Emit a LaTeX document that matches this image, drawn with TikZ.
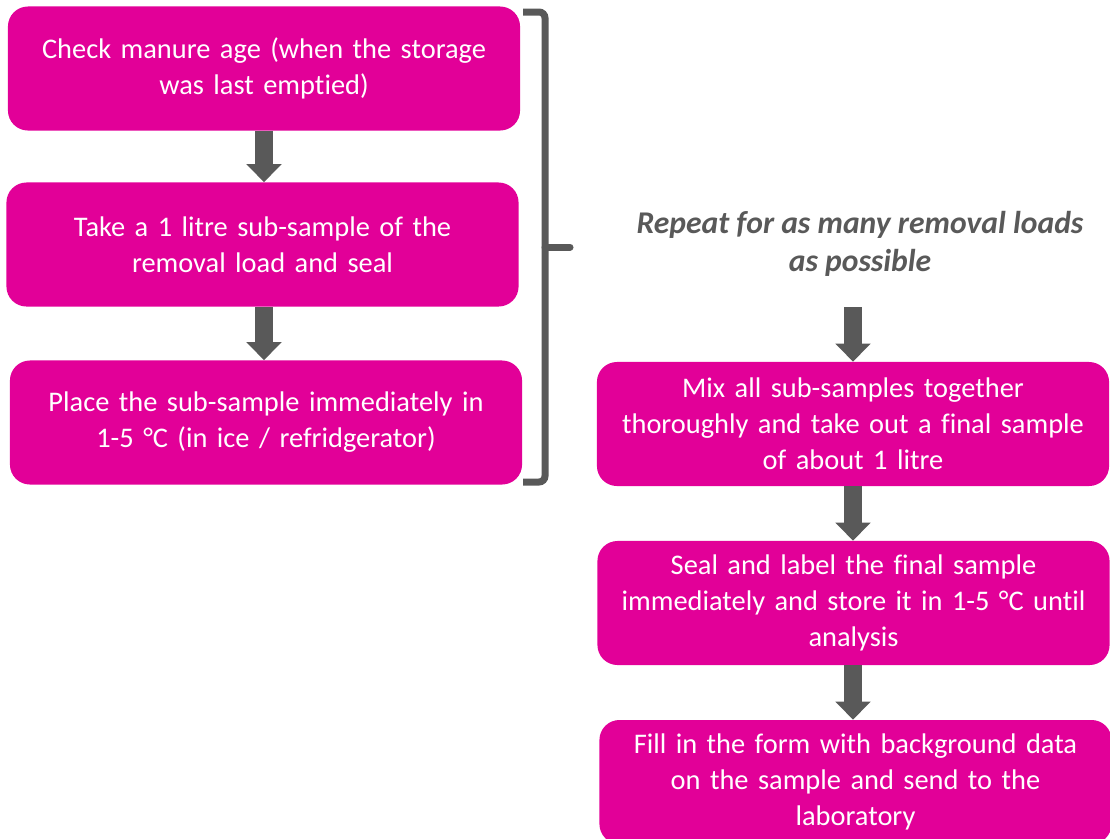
\documentclass[tikz,border=0pt]{standalone}
\usepackage{fontspec}
\setmainfont[Ligatures=NoCommon]{Carlito}
\usetikzlibrary{arrows.meta}
\definecolor{stepfill}{RGB}{226,0,152}
\definecolor{arrowgray}{RGB}{89,89,89}

\begin{document}
\begin{tikzpicture}[x=0.025cm, y=-0.025cm,
                    stepbox/.style={fill=stepfill, text=white, rounded corners=0.5cm,
                                    text width=12.4cm, inner xsep=0.2cm, minimum height=3.1cm,
                                    align=center, font=\fontsize{20.2}{25.6}\selectfont},
                    flow/.style={arrowgray, line width=0.45cm,
                                 -{Triangle[width=0.85cm, length=0.45cm]}}
                    ]
    \clip (0,0) rectangle (1110,838);
    % left column
    \node[stepbox] (check) at (264,68.5)  {Check manure age (when the storage\\was last emptied)};
    \node[stepbox] (take)  at (262.5,244.5) {Take a 1 litre sub-sample of the\\removal load and seal};
    \node[stepbox] (place) at (266,422.5) {Place the sub-sample immediately in\\1-5 °C (in ice / refridgerator)};
    \draw[flow] (check.south -| 264,0) -- (take.north -| 264,0);
    \draw[flow] (take.south -| 264,0)  -- (place.north -| 264,0);
    % bracket
    \draw[arrowgray, line width=0.175cm, rounded corners=0.15cm]
        (523,12) -- (545,12) -- (545,482) -- (523,482);
    \draw[arrowgray, line width=0.175cm, line cap=round] (545,247) -- (570,247);
    % right column
    \node[text=arrowgray, align=center, font=\fontsize{22.5}{27}\selectfont\bfseries\itshape]
        (repeat) at (860,244) {Repeat for as many removal loads\\as possible};
    \coordinate (start) at (853,307);
    \node[stepbox] (mix)  at (853,424)   {Mix all sub-samples together\\thoroughly and take out a final sample\\of about 1 litre};
    \node[stepbox] (seal) at (853.5,603) {Seal and label the final sample\\immediately and store it in 1-5 °C until\\analysis};
    \node[stepbox] (fill) at (855.5,782) {Fill in the form with background data\\on the sample and send to the\\laboratory};
    \draw[flow] (start) -- (start |- mix.north);
    \draw[flow] (mix.south -| start)  -- (seal.north -| start);
    \draw[flow] (seal.south -| start) -- (fill.north -| start);
\end{tikzpicture}
\end{document}
